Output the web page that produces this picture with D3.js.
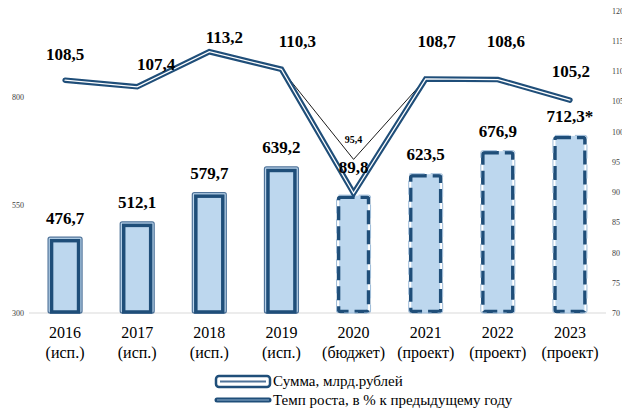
<!DOCTYPE html>
<html><head><meta charset="utf-8">
<script src="https://cdn.jsdelivr.net/npm/d3@7"></script>
<style>
html,body{margin:0;padding:0;background:#fff;}
svg{display:block;}
</style></head>
<body><svg id="c" width="622" height="412"></svg>
<script>
const years = ["2016","2017","2018","2019","2020","2021","2022","2023"];
const statuses = ["(исп.)","(исп.)","(исп.)","(исп.)","(бюджет)","(проект)","(проект)","(проект)"];
const sums = [476.7, 512.1, 579.7, 639.2, 574.0, 623.5, 676.9, 712.3];
const sumLabels = ["476,7","512,1","579,7","639,2","","623,5","676,9","712,3*"];
const projected = [false,false,false,false,true,true,true,true];
const growth = [108.5, 107.4, 113.2, 110.3, 89.8, 108.7, 108.6, 105.2];
const growthLabels = ["108,5","107,4","113,2","110,3","89,8","108,7","108,6","105,2"];
const altGrowth = [110.3, 95.4, 108.7];       // alternative path 2019-2020-2021
const altYears = ["2019","2020","2021"];
const altLabel = "95,4";
const leftTicks = [300, 550, 800];
const rightTicks = [70,75,80,85,90,95,100,105,110,115,120];
const legendNames = ["Сумма, млрд.рублей","Темп роста, в % к предыдущему году"];

// layout (label nudges, px)
const growthLabelDx = [0, 19, 15, 16, 0, 11, 8, 1];
const growthLabelDy = [-26, -23, -15, -28, -26, -38, -39, -29];

const FONT = "'Liberation Serif', 'Times New Roman', serif";
const svg = d3.select("#c");
const dark = "#1f4e79", fillC = "#bdd7ee";
const x = d3.scaleBand().domain(years).range([29, 606]).paddingInner(0.515).paddingOuter(0.2575);
const yL = d3.scaleLinear().domain([300, 1000]).range([313, 10.6]);
const yR = d3.scaleLinear().domain([70, 120]).range([313, 10.6]);
const cx = d => x(d) + x.bandwidth()/2;

// baseline grid
svg.append("line").attr("x1", 29).attr("x2", 606).attr("y1", yL(300)).attr("y2", yL(300))
  .attr("stroke", "#d9d9d9").attr("stroke-width", 1);

// axes
const gL = svg.append("g").attr("transform", "translate(24,0)")
  .call(d3.axisLeft(yL).tickValues(leftTicks).tickSize(0).tickPadding(0).tickFormat(d3.format("d")));
const gR = svg.append("g").attr("transform", "translate(612,0)")
  .call(d3.axisRight(yR).tickValues(rightTicks).tickSize(0).tickPadding(0).tickFormat(d3.format("d")));
[gL, gR].forEach(g => {
  g.attr("font-family", null);
  g.select(".domain").remove();
  g.selectAll("text").style("font-family", FONT).style("font-size", "8px").attr("fill", "#404040");
});

// bars
const bars = svg.append("g").selectAll("g").data(years).join("g");
bars.each(function(yr, i) {
  const g = d3.select(this);
  const bx = x(yr), bw = x.bandwidth(), top = yL(sums[i]), bot = yL(300);
  if (!projected[i]) {
    g.append("rect").attr("x", bx + 0.5).attr("y", top + 0.5).attr("width", bw - 1).attr("height", bot - top - 0.5)
      .attr("rx", 2).attr("fill", fillC).attr("stroke", "#4f7399").attr("stroke-width", 1.2);
    g.append("rect").attr("x", bx + 4).attr("y", top + 4).attr("width", bw - 8).attr("height", bot - top - 5)
      .attr("fill", fillC).attr("stroke", dark).attr("stroke-width", 3.5);
  } else {
    g.append("rect").attr("x", bx + 3).attr("y", top + 1).attr("width", bw - 6).attr("height", bot - top - 1)
      .attr("fill", fillC);
    g.append("rect").attr("x", bx + 2.5).attr("y", top + 2.5).attr("width", bw - 5).attr("height", bot - top - 4)
      .attr("rx", 2).attr("fill", "none").attr("stroke", dark).attr("stroke-width", 3.5)
      .attr("stroke-dasharray", "14,6");
    g.append("rect").attr("x", bx + 0.5).attr("y", top + 0.5).attr("width", bw - 1).attr("height", bot - top - 0.5)
      .attr("rx", 2).attr("fill", "none").attr("stroke", "#9dbbd8").attr("stroke-width", 1)
      .attr("stroke-dasharray", "14,6");
  }
});

// bar value labels
svg.append("g").selectAll("text").data(years).join("text")
  .attr("x", d => cx(d)).attr("y", (d, i) => yL(sums[i]) - 13)
  .attr("text-anchor", "middle").style("font-family", FONT).style("font-size", "17px").style("font-weight", "bold").attr("fill", "#000")
  .text((d, i) => sumLabels[i]);

// alternative thin line
const lineR = d3.line().x(d => cx(d[0])).y(d => yR(d[1]));
svg.append("path").datum(altYears.map((d, i) => [d, altGrowth[i]])).attr("d", lineR)
  .attr("fill", "none").attr("stroke", "#000").attr("stroke-width", 0.9);
svg.append("text").attr("x", cx("2020")).attr("y", yR(95.4) - 16).attr("text-anchor", "middle")
  .style("font-family", FONT).style("font-size", "10px").style("font-weight", "bold").text(altLabel);

// growth line (double)
const pts = years.map((d, i) => [d, growth[i]]);
svg.append("path").datum(pts).attr("d", lineR).attr("fill", "none").attr("stroke", dark)
  .attr("stroke-width", 5.5).attr("stroke-linecap", "round").attr("stroke-linejoin", "miter");
svg.append("path").datum(pts).attr("d", lineR).attr("fill", "none").attr("stroke", "#fff")
  .attr("stroke-width", 1.3).attr("stroke-linecap", "round");

// growth labels
svg.append("g").selectAll("text").data(years).join("text")
  .attr("x", (d, i) => cx(d) + growthLabelDx[i]).attr("y", (d, i) => yR(growth[i]) + growthLabelDy[i] + 6)
  .attr("text-anchor", "middle").style("font-family", FONT).style("font-size", "17px").style("font-weight", "bold").attr("fill", "#000")
  .text((d, i) => growthLabels[i]);

// category labels
const cat = svg.append("g").selectAll("text").data(years).join("text")
  .attr("x", d => cx(d)).attr("text-anchor", "middle").style("font-family", FONT).style("font-size", "16px").attr("fill", "#000");
cat.append("tspan").attr("x", d => cx(d)).attr("y", 338).text(d => d);
cat.append("tspan").attr("x", d => cx(d)).attr("y", 358).text((d, i) => statuses[i]);

// legend
const lg = svg.append("g");
lg.append("rect").attr("x", 216).attr("y", 376).attr("width", 54).attr("height", 11).attr("rx", 3)
  .attr("fill", "#fff").attr("stroke", dark).attr("stroke-width", 2.5);
lg.append("line").attr("x1", 220).attr("x2", 266).attr("y1", 381.5).attr("y2", 381.5)
  .attr("stroke", "#4f7399").attr("stroke-width", 2);
lg.append("line").attr("x1", 217).attr("x2", 269).attr("y1", 400).attr("y2", 400)
  .attr("stroke", dark).attr("stroke-width", 5).attr("stroke-linecap", "round");
lg.append("line").attr("x1", 217).attr("x2", 269).attr("y1", 400).attr("y2", 400)
  .attr("stroke", "#8fb0cf").attr("stroke-width", 1.2);
lg.selectAll("text").data(legendNames).join("text")
  .attr("x", 273).attr("y", (d, i) => 386 + i * 19).style("font-family", FONT).style("font-size", "15px").attr("fill", "#000").text(d => d);
</script></body></html>
